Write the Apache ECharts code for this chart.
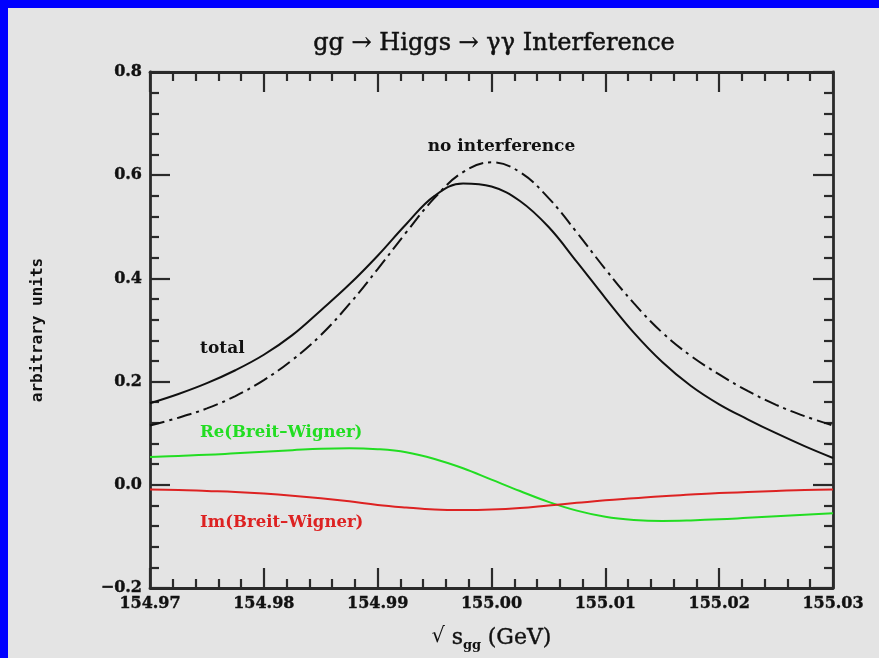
<!DOCTYPE html>
<html>
<head>
<meta charset="utf-8">
<script src="https://cdn.jsdelivr.net/npm/echarts@6/dist/echarts.min.js"></script>
<style>
  html, body { margin: 0; padding: 0; background: #0000ff; width: 879px; height: 658px; overflow: hidden; }
  #chart { position: absolute; left: 8px; top: 8px; width: 871px; height: 650px; background: #e4e4e4; }
</style>
</head>
<body>
<div id="chart"></div>
<script>
// sqrt(s_gg) in GeV
const energies = [154.970, 154.9725, 154.975, 154.9775, 154.980, 154.9825, 154.985, 154.9875,
  154.990, 154.9925, 154.995, 154.9975, 155.000, 155.0025, 155.005, 155.0075, 155.010,
  155.0125, 155.015, 155.0175, 155.020, 155.0225, 155.025, 155.0275, 155.030];

// full line shape including interference
const total = [0.158, 0.176, 0.197, 0.222, 0.252, 0.290, 0.338, 0.388,
  0.444, 0.505, 0.560, 0.584, 0.578, 0.550, 0.500, 0.432, 0.362,
  0.295, 0.238, 0.192, 0.156, 0.127, 0.100, 0.075, 0.052];

// pure Breit-Wigner without interference
const noInterference = [0.115, 0.130, 0.148, 0.172, 0.203, 0.242, 0.290, 0.350,
  0.418, 0.489, 0.556, 0.606, 0.625, 0.606, 0.556, 0.489, 0.418,
  0.352, 0.295, 0.250, 0.214, 0.182, 0.155, 0.133, 0.115];

const reBW = [0.054, 0.056, 0.058, 0.061, 0.064, 0.067, 0.070, 0.071,
  0.069, 0.063, 0.050, 0.032, 0.010, -0.012, -0.033, -0.050, -0.062,
  -0.068, -0.070, -0.069, -0.067, -0.064, -0.061, -0.058, -0.055];

const imBW = [-0.009, -0.010, -0.012, -0.014, -0.017, -0.021, -0.026, -0.032,
  -0.039, -0.044, -0.048, -0.049, -0.048, -0.045, -0.040, -0.035, -0.030,
  -0.026, -0.022, -0.019, -0.016, -0.014, -0.012, -0.010, -0.009];

// curve annotations: [text, x, y, colour]
const curveLabels = [
  ['total', 154.9744, 0.262, '#111111'],
  ['no interference', 154.9944, 0.652, '#111111'],
  ['Re(Breit\u2013Wigner)', 154.9744, 0.098, '#22dd22'],
  ['Im(Breit\u2013Wigner)', 154.9744, -0.076, '#dd2222']
];

const pairs = ys => energies.map((x, i) => [x, ys[i]]);

const axisColor = '#2a2a2a';
const tickFont = { fontFamily: 'DejaVu Serif', fontWeight: 'bold', fontSize: 16, color: '#111',
  textBorderColor: '#111', textBorderWidth: 0.4 };

function frameAxis(extra) {
  return Object.assign({
    type: 'value',
    axisLine: { show: true, onZero: false, lineStyle: { color: axisColor, width: 2.8 } },
    axisTick: { show: true, inside: true, length: 20, lineStyle: { color: axisColor, width: 2.2 } },
    minorTick: { show: true, splitNumber: 5, length: 9, lineStyle: { color: axisColor, width: 2.2 } },
    splitLine: { show: false },
    minorSplitLine: { show: false }
  }, extra);
}

const chart = echarts.init(document.getElementById('chart'), null, { renderer: 'canvas' });

const option = {
  backgroundColor: '#e4e4e4',
  animation: false,
  title: {
    text: 'gg \u2192 Higgs \u2192 \u03b3\u03b3 Interference',
    left: 481, top: 19, textAlign: 'center',
    textStyle: { fontFamily: 'DejaVu Serif', fontWeight: 'normal', fontSize: 24, color: '#111',
      textBorderColor: '#111', textBorderWidth: 0.5 }
  },
  grid: { left: 142, right: 46, top: 64, bottom: 70 },
  xAxis: [
    frameAxis({
      position: 'bottom', min: 154.97, max: 155.03, interval: 0.01,
      axisLabel: Object.assign({ margin: 8, formatter: v => v.toFixed(2) }, tickFont),
      name: '{r|\u221a}  {s|s}{sub|gg}  {s|(GeV)}',
      nameLocation: 'middle', nameGap: 37,
      nameTextStyle: {
        rich: {
          r: { fontFamily: 'DejaVu Serif', fontSize: 21, color: '#111', padding: [0, 0, 4, 0] },
          s: { fontFamily: 'DejaVu Serif', fontSize: 22, color: '#111', textBorderColor: '#111', textBorderWidth: 0.4 },
          sub: { fontFamily: 'DejaVu Serif', fontWeight: 'bold', fontSize: 13, color: '#111', padding: [14, 0, 0, 0] }
        }
      }
    }),
    frameAxis({ position: 'top', min: 154.97, max: 155.03, interval: 0.01, axisLabel: { show: false } })
  ],
  yAxis: [
    frameAxis({
      position: 'left', min: -0.2, max: 0.8, interval: 0.2,
      axisLabel: Object.assign({ margin: 8, formatter: v => (v < 0 ? '\u2212' : '') + Math.abs(v).toFixed(1) }, tickFont),
      name: 'arbitrary units', nameLocation: 'middle', nameGap: 104, nameRotate: 90,
      nameTextStyle: { fontFamily: 'DejaVu Sans Mono', fontWeight: 'bold', fontSize: 16, color: '#111' }
    }),
    frameAxis({ position: 'right', min: -0.2, max: 0.8, interval: 0.2, axisLabel: { show: false } })
  ],
  series: [
    { name: 'total', type: 'line', data: pairs(total), smooth: 0.4, showSymbol: false,
      lineStyle: { color: '#111', width: 2 } },
    { name: 'no interference', type: 'line', data: pairs(noInterference), smooth: 0.4, showSymbol: false,
      lineStyle: { color: '#111', width: 2, type: [15, 5, 3, 5] } },
    { name: 'Re(Breit-Wigner)', type: 'line', data: pairs(reBW), smooth: 0.4, showSymbol: false,
      lineStyle: { color: '#22dd22', width: 2 } },
    { name: 'Im(Breit-Wigner)', type: 'line', data: pairs(imBW), smooth: 0.4, showSymbol: false,
      lineStyle: { color: '#dd2222', width: 2 } }
  ]
};

chart.setOption(option);

// place the curve annotations in data coordinates
chart.setOption({
  graphic: curveLabels.map(([text, x, y, color]) => {
    const p = chart.convertToPixel({ gridIndex: 0 }, [x, y]);
    const size = text.length > 12 && text[0] !== 'n' ? 16.5 : 17;
    return {
      type: 'text', left: p[0], top: p[1] - 10,
      style: { text, fill: color, font: 'bold ' + size + 'px "DejaVu Serif"' }
    };
  })
});
</script>
</body>
</html>
